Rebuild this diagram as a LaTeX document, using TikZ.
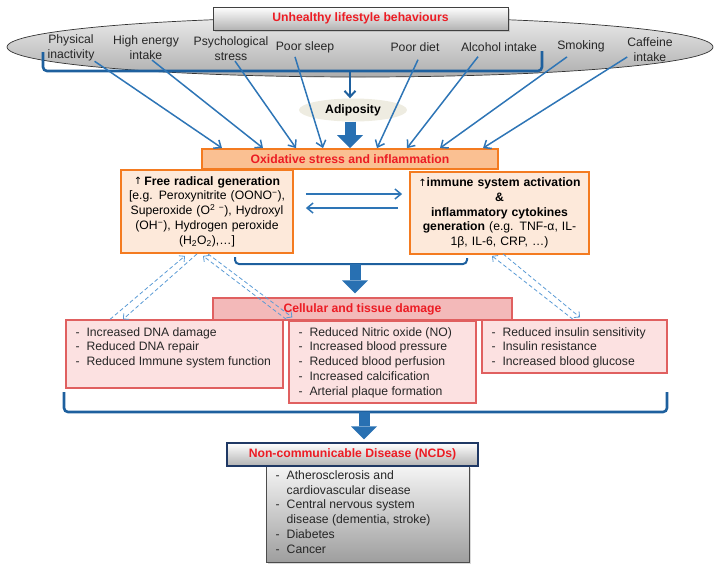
\documentclass[tikz,border=0pt]{standalone}
\usepackage{fontspec}
\setmainfont{Liberation Sans}
\newfontfamily\arrowfont{DejaVu Sans}
\usepackage{tikz}
\usetikzlibrary{shapes.geometric,arrows.meta,calc,shadows}

\definecolor{arrblue}{RGB}{46,117,182}
\definecolor{brblue}{RGB}{30,96,158}
\definecolor{blkblue}{RGB}{40,112,178}
\definecolor{dashblue}{RGB}{91,155,213}
\definecolor{hdred}{RGB}{236,28,36}
\definecolor{oxfill}{RGB}{250,192,146}
\definecolor{oxline}{RGB}{244,123,32}
\definecolor{peach}{RGB}{253,233,218}
\definecolor{cellfill}{RGB}{243,185,185}
\definecolor{cellline}{RGB}{224,96,96}
\definecolor{dmgfill}{RGB}{252,225,225}
\definecolor{navy}{RGB}{31,56,100}
\definecolor{adipfill}{RGB}{238,236,225}

\newcommand\fs{\fontsize{12.2}{14.8}\selectfont}
\newcommand\itm{\makebox[11pt][l]{-}}
\newcommand\up{{\arrowfont\fontsize{10}{12}\selectfont ↑}}

\tikzset{
  lbl/.style={align=center, text=black!85, inner sep=0pt},
  grayhead/.style={draw=black!75, line width=0.9pt, top color=white, bottom color=black!30,
    text=hdred, font=\fs\bfseries, inner sep=0pt},
  thinarr/.style={draw=arrblue, line width=1.5pt, -{Straight Barb[length=6pt,width=10pt]}},
  bracket/.style={draw=brblue, line width=2.6pt, rounded corners=4pt},
  blockarr/.style={draw=blkblue, line width=11pt, -{Triangle[width=26pt,length=13pt,line width=0pt]}},
  dasharr/.style={draw=dashblue, line width=0.8pt, dash pattern=on 4pt off 2.5pt,
    -{Straight Barb[length=4pt,width=8pt]}},
  oxbox/.style={draw=oxline, line width=1.8pt, fill=peach, align=center, inner sep=0pt},
  dmgbox/.style={draw=cellline, line width=1.3pt, fill=dmgfill, inner sep=0pt},
  listtxt/.style={anchor=north west, align=left, inner sep=0pt, text=black!85},
  softshadow/.style={drop shadow={opacity=0.3, shadow xshift=1.5pt, shadow yshift=-1.5pt}}
}

\begin{document}
\begin{tikzpicture}[x=1pt, y=-1pt, font=\fs]
  \useasboundingbox (0,0) rectangle (720,571);

  % lifestyle behaviours
  \node[ellipse, draw=black!80, line width=0.7pt, top color=black!8, bottom color=black!32,
    minimum width=706pt, minimum height=60pt, inner sep=0pt] (life) at (360,47) {};
  \node[grayhead, softshadow, minimum width=295pt, minimum height=23pt] (unh) at (360.5,18.5)
    {Unhealthy lifestyle behaviours};

  \node[lbl] (phys) at (71,48) {Physical\\inactivity};
  \node[lbl] (high) at (146,48) {High energy\\intake};
  \node[lbl] (psy) at (231,49) {Psychological\\stress};
  \node[lbl] (sleep) at (305,47) {Poor sleep};
  \node[lbl] (diet) at (415,47) {Poor diet};
  \node[lbl] (alc) at (499,47) {Alcohol intake};
  \node[lbl] (smok) at (581,46) {Smoking};
  \node[lbl] (caff) at (650,50) {Caffeine\\intake};

  \coordinate (brk) at (350,71);
  \draw[bracket] (43,52) |- (542,71) -- (542,51);

  \node[ellipse, fill=adipfill, minimum width=108pt, minimum height=23pt, inner sep=0pt,
    font=\fs\bfseries] (adip) at (353,110) {Adiposity};
  \draw[draw=brblue, line width=2pt, -{Straight Barb[length=6pt,width=11pt]}] (brk) -- (brk |- adip.north);

  % oxidative stress
  \node[oxbox, fill=oxfill, minimum width=296pt, minimum height=20pt, text=hdred,
    font=\fs\bfseries] (ox) at (350,159) {Oxidative stress and inflammation};
  \draw[blockarr] (adip.south -| brk) -- (ox.north -| brk);

  \draw[thinarr] (phys.south east) -- ($(ox.north)+(-128,0)$);
  \draw[thinarr] ($(high.south)+(6,0)$) -- ($(ox.north)+(-87,0)$);
  \draw[thinarr] ($(psy.south)+(4,0)$) -- ($(ox.north)+(-54,0)$);
  \draw[thinarr] ($(sleep.south)+(-10,4)$) -- ($(ox.north)+(-27,0)$);
  \draw[thinarr] ($(diet.south)+(3,8)$) -- ($(ox.north)+(27,0)$);
  \draw[thinarr] ($(alc.south)+(-21,5)$) -- ($(ox.north)+(57,0)$);
  \draw[thinarr] ($(smok.south)+(-14,5)$) -- ($(ox.north)+(90,0)$);
  \draw[thinarr] ($(caff.west)+(0,7)$) -- ($(ox.north)+(133,0)$);

  \node[oxbox, minimum width=172pt, minimum height=83pt, text width=160pt] (frad) at (207,211.5)
    {\raisebox{1pt}{\up}\,\textbf{Free radical generation}\\
     {[}e.g. Peroxynitrite (OONO\textsuperscript{−}),\\
     Superoxide (O\textsuperscript{2 −}), Hydroxyl\\
     (OH\textsuperscript{−}), Hydrogen peroxide\\
     (H\textsubscript{2}O\textsubscript{2}),…]};
  \node[oxbox, minimum width=179pt, minimum height=82pt, text width=168pt] (imm) at (499.5,213)
    {\up\textbf{immune system activation}\\
     \textbf{\&}\\
     \textbf{inflammatory cytokines}\\
     \textbf{generation} (e.g. TNF-α, IL-\\
     1β, IL-6, CRP, …)};

  \draw[thinarr] ($(frad.east)+(12,-17.5)$) -- ($(imm.west)+(-7,-19)$);
  \draw[thinarr] ($(imm.west)+(-11,-5)$) -- ($(frad.east)+(12,-3.5)$);

  % cellular and tissue damage
  \coordinate (brk2) at (355,264);
  \draw[bracket, line width=2pt] (235,257) |- (467,264) -- (467,258);

  \node[draw=cellline, line width=1.3pt, fill=cellfill, minimum width=299pt, minimum height=22pt,
    inner sep=0pt, text=hdred, font=\fs\bfseries] (cell) at (362.5,309) {Cellular and tissue damage};
  \draw[blockarr, shorten >=4pt] (brk2) -- (brk2 |- cell.north);

  \node[dmgbox, minimum width=217pt, minimum height=68pt] (dmgA) at (174.5,354) {};
  \node[listtxt] (dmgAtxt) at ($(dmgA.north west)+(10,7.7)$)
    {\itm Increased DNA damage\\\itm Reduced DNA repair\\\itm Reduced Immune system function};
  \node[dmgbox, minimum width=187pt, minimum height=82pt] (dmgB) at (382.5,362) {};
  \node[listtxt] (dmgBtxt) at ($(dmgB.north west)+(10,6.7)$)
    {\itm Reduced Nitric oxide (NO)\\\itm Increased blood pressure\\\itm Reduced blood perfusion\\
     \itm Increased calcification\\\itm Arterial plaque formation};
  \node[dmgbox, minimum width=185pt, minimum height=53pt] (dmgC) at (574.5,346.5) {};
  \node[listtxt] (dmgCtxt) at ($(dmgC.north west)+(10,7.7)$)
    {\itm Reduced insulin sensitivity\\\itm Insulin resistance\\\itm Increased blood glucose};

  \draw[dasharr] ($(dmgA.north)+(-64.5,0)$) -- ($(frad.south)+(-22,2)$);
  \draw[dasharr] ($(frad.south)+(-10,0)$) -- ($(dmgA.north)+(-51.5,0)$);
  \draw[dasharr] ($(dmgB.north west)+(-2,-1)$) -- ($(frad.south)+(-4,2)$);
  \draw[dasharr] ($(frad.south)+(1,0)$) -- ($(dmgB.north west)+(4,-3)$);
  \draw[dasharr] ($(dmgC.north)+(-1.5,0)$) -- ($(imm.south)+(-7.5,1)$);
  \draw[dasharr] ($(imm.south)+(3.5,-1)$) -- ($(dmgC.north)+(5.5,-2)$);

  % non-communicable disease
  \coordinate (brk3) at (364,412);
  \draw[bracket] (64,392) |- (667,412) -- (667,392);

  \node[draw=black!70, line width=1pt, top color=black!4, bottom color=black!38, softshadow,
    minimum width=203pt, minimum height=96pt, inner sep=0pt] (ncdl) at (367.5,514) {};
  \node[listtxt] (ncdltxt) at ($(ncdl.north west)+(10,4.7)$)
    {\itm Atherosclerosis and\\\hspace*{11pt}cardiovascular disease\\
     \itm Central nervous system\\\hspace*{11pt}disease (dementia, stroke)\\
     \itm Diabetes\\\itm Cancer};
  \node[grayhead, draw=navy, line width=1.4pt, minimum width=251pt, minimum height=23pt]
    (ncd) at (352.5,454.5) {Non-communicable Disease (NCDs)};
  \draw[blockarr, shorten >=3pt] (brk3) -- (brk3 |- ncd.north);
\end{tikzpicture}
\end{document}
